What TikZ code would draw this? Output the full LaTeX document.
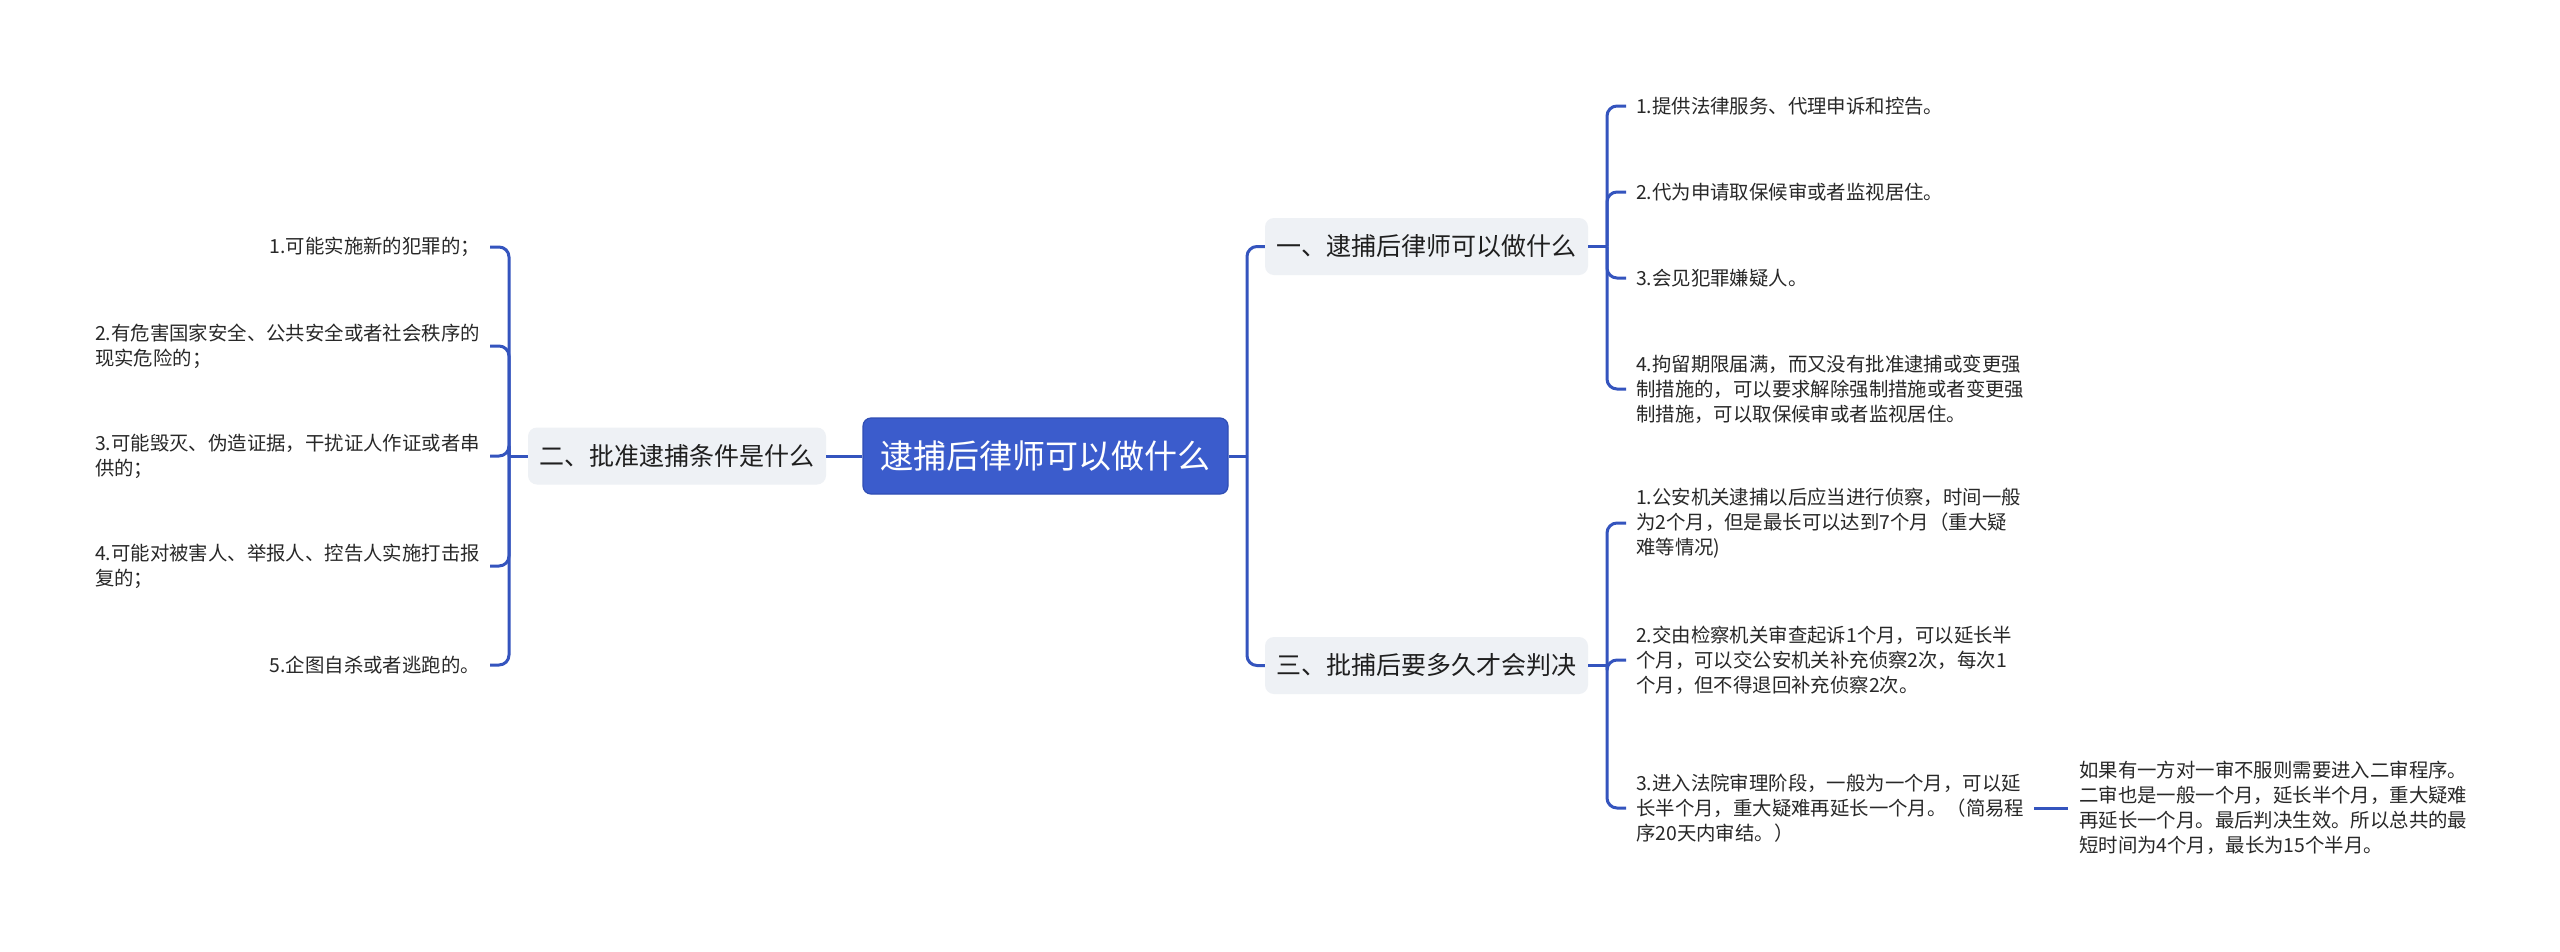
\documentclass[tikz,border=0pt]{standalone}
\usepackage{fontspec}
\setmainfont{Noto Sans CJK SC}
\definecolor{lineblue}{RGB}{52,84,190}
\definecolor{rootblue}{RGB}{59,92,204}
\definecolor{rootedge}{RGB}{48,78,180}
\definecolor{subgray}{RGB}{238,241,245}
\definecolor{leaftext}{RGB}{40,40,40}
\begin{document}
\begin{tikzpicture}[x=1pt,y=-1pt,
  conn/.style={draw=lineblue, line width=3pt, rounded corners=10pt},
  connsharp/.style={draw=lineblue, line width=3pt},
  rootbox/.style={fill=rootblue, draw=rootedge, line width=1.2pt, rounded corners=8pt, text=white,
    font=\fontsize{33}{40}\selectfont, minimum width=365pt, minimum height=76pt, inner sep=0pt},
  subbox/.style={fill=subgray, rounded corners=9pt, text=black!88,
    font=\fontsize{25}{30}\selectfont, minimum height=57pt, inner sep=0pt},
  leaf/.style={align=left, text=leaftext, font=\fontsize{19.4}{25}\selectfont, inner xsep=10pt, inner ysep=2pt}]

\useasboundingbox (0,0) rectangle (2560,951);
\fill[white] (0,0) rectangle (2560,951);

% main nodes
\node[rootbox] (c) at (1045.5,456) {逮捕后律师可以做什么};
\node[subbox, minimum width=298pt] (L) at (677,456) {二、批准逮捕条件是什么};
\node[subbox, minimum width=323pt] (R1) at (1426.5,246.5) {一、逮捕后律师可以做什么};
\node[subbox, minimum width=323pt] (R3) at (1426.5,665.5) {三、批捕后要多久才会判决};

% left leaves
\node[leaf, anchor=east] (l1) at (490,247) {1.可能实施新的犯罪的；};
\node[leaf, anchor=east] (l2) at (490,346) {2.有危害国家安全、公共安全或者社会秩序的\\现实危险的；};
\node[leaf, anchor=east] (l3) at (490,456) {3.可能毁灭、伪造证据，干扰证人作证或者串\\供的；};
\node[leaf, anchor=east] (l4) at (490,566) {4.可能对被害人、举报人、控告人实施打击报\\复的；};
\node[leaf, anchor=east] (l5) at (490,665) {5.企图自杀或者逃跑的。};

% right block 1 leaves
\node[leaf, anchor=west] (a1) at (1626,106) {1.提供法律服务、代理申诉和控告。};
\node[leaf, anchor=west] (a2) at (1626,192) {2.代为申请取保候审或者监视居住。};
\node[leaf, anchor=west] (a3) at (1626,278) {3.会见犯罪嫌疑人。};
\node[leaf, anchor=west] (a4) at (1626,389) {4.拘留期限届满，而又没有批准逮捕或变更强\\制措施的，可以要求解除强制措施或者变更强\\制措施，可以取保候审或者监视居住。};

% right block 3 leaves
\node[leaf, anchor=west] (b1) at (1626,523) {1.公安机关逮捕以后应当进行侦察，时间一般\\为2个月，但是最长可以达到7个月（重大疑\\难等情况)};
\node[leaf, anchor=west] (b2) at (1626,660) {2.交由检察机关审查起诉1个月，可以延长半\\个月，可以交公安机关补充侦察2次，每次1\\个月，但不得退回补充侦察2次。};
\node[leaf, anchor=west] (b3) at (1626,808) {3.进入法院审理阶段，一般为一个月，可以延\\长半个月，重大疑难再延长一个月。（简易程\\序20天内审结。）};
\node[leaf, anchor=west, inner xsep=11pt] (s1) at (2068,808) {如果有一方对一审不服则需要进入二审程序。\\二审也是一般一个月，延长半个月，重大疑难\\再延长一个月。最后判决生效。所以总共的最\\短时间为4个月，最长为15个半月。};

% junction coordinates
\coordinate (jl) at (509,456);
\coordinate (jr) at (1247,456);
\coordinate (ja) at (1607,246.5);
\coordinate (jb) at (1607,665.5);

% root connectors
\draw[connsharp] (c.west) -- (L.east);
\draw[connsharp] (c.east) -- (jr);
\draw[conn] (jr) |- (R1.west);
\draw[conn] (jr) |- (R3.west);

% left bracket
\draw[connsharp] (L.west) -- (jl);
\foreach \n in {l1,l2,l3,l4,l5} \draw[conn] (jl) |- (\n.east);

% right bracket 1
\draw[connsharp] (R1.east) -- (ja);
\foreach \n in {a1,a2,a3,a4} \draw[conn] (ja) |- (\n.west);

% right bracket 3
\draw[connsharp] (R3.east) -- (jb);
\foreach \n in {b1,b2,b3} \draw[conn] (jb) |- (\n.west);

% sub leaf
\draw[connsharp] (b3.east) -- (s1.west);
\end{tikzpicture}
\end{document}
